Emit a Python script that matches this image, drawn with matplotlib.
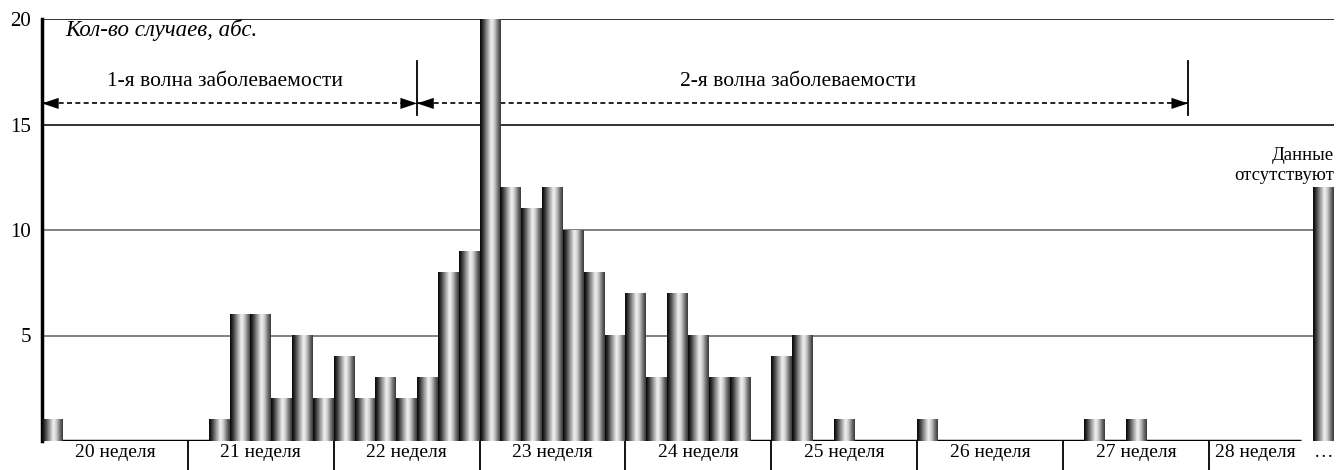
import numpy as np
import matplotlib.pyplot as plt
from matplotlib.colors import LinearSegmentedColormap

plt.rcParams['font.family'] = ['Liberation Serif', 'DejaVu Serif']

# daily case counts, weeks 20..28 (week 28 only partly shown)
week_labels = ['20 неделя', '21 неделя', '22 неделя', '23 неделя', '24 неделя',
               '25 неделя', '26 неделя', '27 неделя', '28 неделя']
week20 = [1, 0, 0, 0, 0, 0, 0]
week21 = [0, 1, 6, 6, 2, 5, 2]
week22 = [4, 2, 3, 2, 3, 8, 9]
week23 = [20, 12, 11, 12, 10, 8, 5]
week24 = [7, 3, 7, 5, 3, 3, 0]
week25 = [4, 5, 0, 1, 0, 0, 0]
week26 = [1, 0, 0, 0, 0, 0, 0]
week27 = [0, 1, 0, 1, 0, 0, 0]
week28 = [0, 0, 0, 0, 0]
missing_value = 12
yticks = [5, 10, 15, 20]
wave_labels = ['1-я волна заболеваемости', '2-я волна заболеваемости']
wave_bounds = [(0, 18), (18, 55)]

counts = week20 + week21 + week22 + week23 + week24 + week25 + week26 + week27 + week28
n_days = len(counts)
missing_pos = n_days  # bar after the last shown day

fig = plt.figure(figsize=(13.37, 4.70), dpi=100)
ax = fig.add_axes([42 / 1337, 29 / 470, 1292 / 1337, 422 / 470])

# metallic cylinder gradient
cmap = LinearSegmentedColormap.from_list('metal', [
    (0.0, '#050505'), (0.12, '#2e2e2e'), (0.35, '#9a9a9a'), (0.55, '#f4f4f4'),
    (0.7, '#c8c8c8'), (0.88, '#6a6a6a'), (1.0, '#383838')])
grad = np.linspace(0, 1, 64).reshape(1, -1)


def draw_bar(x, h):
    if h <= 0:
        return
    ax.imshow(grad, cmap=cmap, extent=(x, x + 1, 0, h), aspect='auto',
              interpolation='bicubic', zorder=3)


for i, v in enumerate(counts):
    draw_bar(i, v)
draw_bar(missing_pos, missing_value)

# gridlines
for y in yticks:
    col = '#777777' if y <= 10 else '#222222'
    ax.axhline(y, color=col, lw=1.3, zorder=1)

# zero baseline
ax.plot([0, n_days - 0.6], [0, 0], color='black', lw=2.5, zorder=2, solid_capstyle='butt')

ax.set_xlim(0, missing_pos + 1)
ax.set_ylim(0, 20)
for s in ['top', 'right', 'bottom']:
    ax.spines[s].set_visible(False)
ax.spines['left'].set_linewidth(2.5)
ax.set_xticks([])
ax.set_yticks(yticks)
ax.set_yticklabels([str(t) for t in yticks], fontsize=15)
ax.tick_params(axis='y', length=0, pad=8)

# week labels and separators
for k, lab in enumerate(week_labels):
    start = 7 * k
    end = min(start + 7, n_days - 0.6)
    ax.text((start + end) / 2, -0.55, lab, ha='center', va='center', fontsize=14,
            clip_on=False)
    if k > 0:
        ax.plot([start, start], [0, -1.5], color='black', lw=1.3, clip_on=False)
ax.text(missing_pos + 0.5, -0.55, '…', ha='center', va='center', fontsize=14, clip_on=False)

# axis caption
ax.text(1.1, 19.5, 'Кол-во случаев, абс.', style='italic', fontsize=16.5,
        ha='left', va='center')

# epidemic waves
for lab, (x0, x1) in zip(wave_labels, wave_bounds):
    ax.plot([x0, x1], [16, 16], color='black', lw=1.2, ls=(0, (3, 2)), zorder=2)
    for xa, xb in [(x0 + 1.5, x0), (x1 - 1.5, x1)]:
        ax.annotate('', xy=(xb, 16), xytext=(xa, 16),
                    arrowprops=dict(arrowstyle='-|>,head_length=1.2,head_width=0.4',
                                    color='black', lw=0, shrinkA=0, shrinkB=0),
                    zorder=2)
    ax.text((x0 + x1) / 2 - 0.2, 17.05, lab, ha='center', va='center', fontsize=15.5)
for xv in [18, 55]:
    ax.plot([xv, xv], [15.45, 18], color='black', lw=1.3, zorder=2)

ax.text(missing_pos + 1, 13.05, 'Данные\nотсутствуют', ha='right', va='center',
        fontsize=13.5, linespacing=1.25)

fig.savefig('out.png', dpi=100)
